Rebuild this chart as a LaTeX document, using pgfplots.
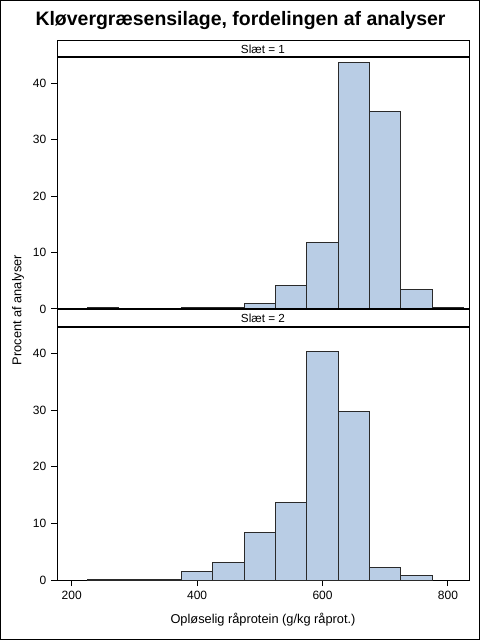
\documentclass[border=0pt]{standalone}
\usepackage{fontspec}
\setmainfont{Liberation Sans}
\usepackage{pgfplots}
\pgfplotsset{compat=1.18}
\definecolor{barfill}{HTML}{B9CDE5}
\definecolor{baredge}{HTML}{2A2A2A}
\begin{document}
\begin{tikzpicture}
\useasboundingbox (0pt,0pt) rectangle (360pt,480pt);
\fill[white] (0pt,0pt) rectangle (360pt,480pt);
\pgfplotsset{
 panel/.style={
  anchor=south west, scale only axis, width=309pt,
  xmin=176.5, xmax=833.5, ymin=0, ymax=44.7,
  axis line style={line width=0.75pt, black},
  tick style={line width=0.75pt, black},
  tick align=outside, tick pos=left, major tick length=4.5pt,
  ytick={0,10,20,30,40},
  ticklabel style={font=\fontsize{9}{10}\selectfont},
  /pgf/number format/assume math mode=true,
  ybar, bar width=50, bar shift=0pt,
 }
}
% top panel: Slaet = 1
\begin{axis}[panel, at={(42.75pt,248.25pt)}, height=189pt, xtick=\empty]
\addplot[fill=barfill, draw=baredge, line width=0.75pt] coordinates {
 (250,0.25) (300,0.05) (350,0.05) (400,0.2) (450,0.2) (500,1.0) (550,4.1)
 (600,11.8) (650,43.7) (700,35.0) (750,3.4) (800,0.3)};
\end{axis}
% bottom panel: Slaet = 2
\begin{axis}[panel, at={(42.75pt,45pt)}, height=189.75pt, xtick={200,400,600,800}]
\addplot[fill=barfill, draw=baredge, line width=0.75pt] coordinates {
 (250,0.1) (300,0.1) (350,0.1) (400,1.5) (450,3.1) (500,8.4) (550,13.7)
 (600,40.4) (650,29.8) (700,2.25) (750,0.75)};
\end{axis}
% strip headers
\draw[line width=0.75pt, fill=white] (42.75pt,437.25pt) rectangle (351.75pt,449.25pt);
\node[font=\fontsize{8.8}{10}\selectfont] at (197.25pt,443.25pt) {Slæt = 1};
\draw[line width=0.75pt, fill=white] (42.75pt,234.75pt) rectangle (351.75pt,248.25pt);
\node[font=\fontsize{8.8}{10}\selectfont] at (197.25pt,241.5pt) {Slæt = 2};
\draw[line width=1.5pt] (42.75pt,437.25pt) -- (351.75pt,437.25pt);
\draw[line width=1.5pt] (42.75pt,248.25pt) -- (351.75pt,248.25pt);
\draw[line width=1.5pt] (42.75pt,234.75pt) -- (351.75pt,234.75pt);
% title and labels
\node[font=\bfseries\fontsize{14.6}{16}\selectfont] at (180.4pt,464.5pt) {Kløvergræsensilage, fordelingen af analyser};
\node[rotate=90, font=\fontsize{9.6}{11}\selectfont] at (13.5pt,247.5pt) {Procent af analyser};
\node[font=\fontsize{9.6}{11}\selectfont] at (197.25pt,15pt) {Opløselig råprotein (g/kg råprot.)};
\draw[line width=0.75pt] (0.375pt,0.375pt) rectangle (359.625pt,479.625pt);
\end{tikzpicture}
\end{document}
